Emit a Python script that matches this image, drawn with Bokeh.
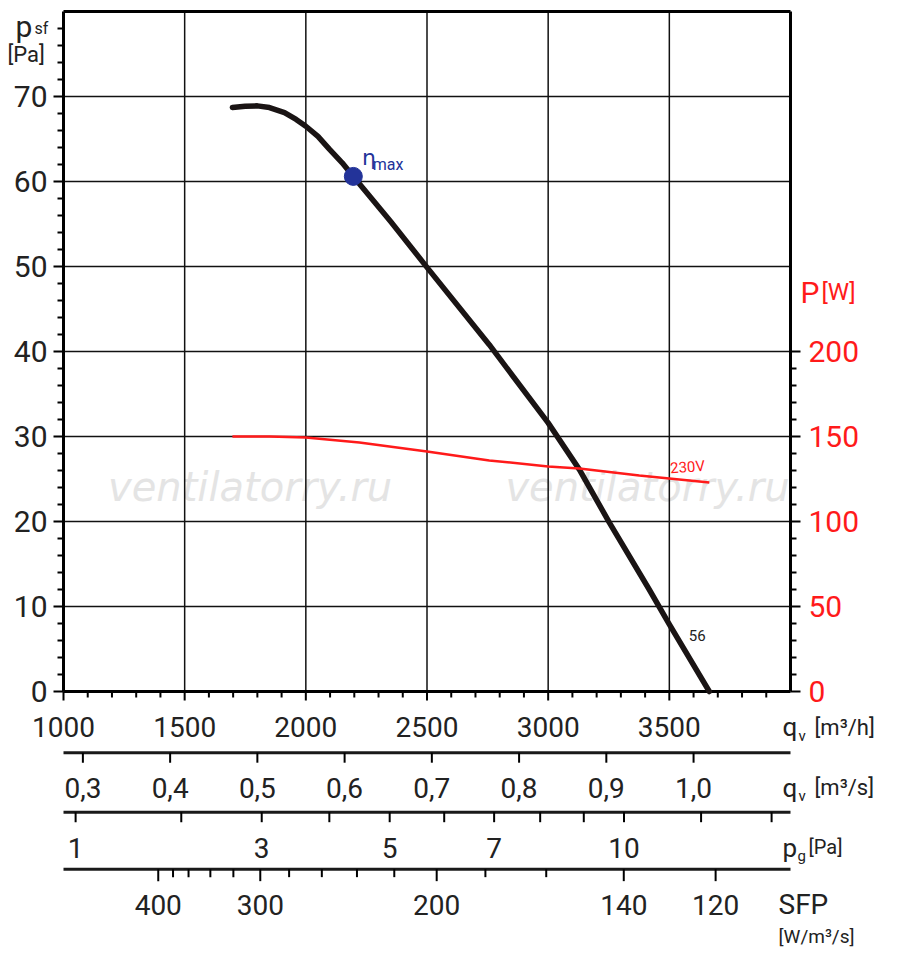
from bokeh.plotting import figure
from bokeh.models import Range1d
from bokeh.core.properties import value
from bokeh.embed import file_html
from bokeh.resources import INLINE

# ---- data ----
q_curve = [1697, 1750, 1800, 1850, 1912, 1960, 2000, 2050, 2097, 2150, 2196, 2350, 2500, 2757,
           3000, 3129, 3252, 3417, 3500, 3665]
psf_curve = [68.7, 68.85, 68.9, 68.7, 68.1, 67.3, 66.5, 65.3, 63.8, 62.2, 60.6, 55.3, 49.9, 40.8,
             31.6, 26.1, 19.9, 12.0, 7.9, 0.0]
q_power = [1697, 1850, 2000, 2221, 2500, 2757, 3000, 3129, 3376, 3665]
p_power = [150, 150, 149.4, 146.5, 141.2, 135.9, 132.4, 131.2, 127.0, 123.0]
eta_q, eta_p = 2196, 60.6

psf_ticks = [0, 10, 20, 30, 40, 50, 60, 70]
psf_labels = ["0", "10", "20", "30", "40", "50", "60", "70"]
pw_ticks = [0, 50, 100, 150, 200]
pw_labels = ["0", "50", "100", "150", "200"]
qh_ticks = [1000, 1500, 2000, 2500, 3000, 3500]
qh_labels = ["1000", "1500", "2000", "2500", "3000", "3500"]
qs_values = [0.3, 0.4, 0.5, 0.6, 0.7, 0.8, 0.9, 1.0]
qs_labels = ["0,3", "0,4", "0,5", "0,6", "0,7", "0,8", "0,9", "1,0"]
pg_tick_q = [1050, 1486, 1818, 2097, 2346, 2571, 2777, 2967, 3147, 3313, 3631, 3922]
pg_label_q = [1050, 1818, 2346, 2777, 3313]
pg_labels = ["1", "3", "5", "7", "10"]
sfp_tick_q = [1391, 1452, 1516, 1606, 1701, 1812, 1931, 2066, 2211, 2365, 2540, 2741, 2992, 3312, 3691]
sfp_label_q = [1391, 1812, 2540, 3312, 3691]
sfp_labels = ["400", "300", "200", "140", "120"]

FONT = "Roboto"
K = 727 / 3000.0          # px per m3/h
X0 = 1000 - 63 / K
X1 = X0 + 884 / K
PW = 5.0                  # P[W] per Pa on the right scale

p = figure(frame_width=884, frame_height=951, min_border=0,
           x_range=Range1d(X0, X1), y_range=Range1d((692 - 952) / 8.5, (692 - 1) / 8.5),
           output_backend="svg", toolbar_location=None)
p.outline_line_color = None
p.axis.visible = False
p.grid.visible = False

XL, XR = 1000, 4000
dx = lambda px: px / K      # px -> data x
dy = lambda px: px / 8.5    # px -> data y

def txt(x, y, t, size="28px", color="#222222", align="center", base="middle", font=FONT,
        style="normal", angle=0.0):
    p.text([x], [y], text=[t], text_font=value(font), text_font_size=size, text_color=color,
           text_align=align, text_baseline=base, text_font_style=style, angle=angle)

# watermark
for xw in [1770, 3410]:
    txt(xw, 24.1, "ventilatorry.ru", size="40px", color="#e4e4e4", font="DejaVu Sans", style="italic")

# grid
gx = [1500, 2000, 2500, 3000, 3500]
p.segment(x0=gx, y0=[0] * 5, x1=gx, y1=[80] * 5, line_color="#111111", line_width=1.5)
gy = [10, 20, 30, 40, 50, 60, 70]
p.segment(x0=[XL] * 7, y0=gy, x1=[XR] * 7, y1=gy, line_color="#111111", line_width=1.5)

# frame
p.segment(x0=[XL, XL, XR, XL], y0=[0, 80, 0, 0], x1=[XL, XR, XR, XR], y1=[80, 80, 80, 0],
          line_color="black", line_width=3)

# left ticks
minor_l = [v for v in range(0, 80, 2) if v % 10]
p.segment(x0=[XL] * 8, y0=psf_ticks, x1=[XL - dx(10)] * 8, y1=psf_ticks, line_color="black", line_width=2)
p.segment(x0=[XL] * len(minor_l), y0=minor_l, x1=[XL - dx(6)] * len(minor_l), y1=minor_l,
          line_color="black", line_width=2)
for v, t in zip(psf_ticks, psf_labels):
    txt(XL - dx(16), v, t, size="30px", align="right")

# right ticks (P)
minor_r = [v for v in range(0, 201, 10) if v % 50]
p.segment(x0=[XR] * 5, y0=[v / PW for v in pw_ticks], x1=[XR + dx(10)] * 5, y1=[v / PW for v in pw_ticks],
          line_color="black", line_width=2)
p.segment(x0=[XR] * len(minor_r), y0=[v / PW for v in minor_r], x1=[XR + dx(6)] * len(minor_r),
          y1=[v / PW for v in minor_r], line_color="black", line_width=2)
for v, t in zip(pw_ticks, pw_labels):
    txt(XR + dx(18), v / PW, t, size="30px", color="#ff1a1a", align="left")

# titles
txt(XL - dx(48), 78.2, "p", size="30px", align="left", base="alphabetic")
txt(XL - dx(29), 78.0, "sf", size="16px", align="left", base="alphabetic")
txt(XL - dx(56), 75.0, "[Pa]", size="22px", align="left", base="alphabetic")
txt(XR + dx(10), 47.0, "P", size="30px", color="#ff1a1a", align="left", base="alphabetic")
txt(XR + dx(31), 47.0, "[W]", size="24px", color="#ff1a1a", align="left", base="alphabetic")

# curves
p.line(q_curve, psf_curve, line_color="#1a1414", line_width=5.5, line_join="round", line_cap="round")
p.line(q_power, [v / PW for v in p_power], line_color="#ff1a1a", line_width=2.5)
p.scatter([eta_q], [eta_p], size=18, color="#233399")
txt(2232, 62.8, "η", size="22px", color="#233399", align="left", base="alphabetic", font="DejaVu Sans")
txt(2276, 62.0, "max", size="16px", color="#233399", align="left", base="alphabetic")
txt(3575, 132 / PW, "230V", size="15px", color="#ff1a1a", angle=0.07)
txt(3615, 6.6, "56", size="15px")

# main qv [m3/h] scale at y = 0
minor_qh = [q for q in range(1000, 4000, 100) if q not in qh_ticks]
p.segment(x0=qh_ticks, y0=[0] * 6, x1=qh_ticks, y1=[-dy(9)] * 6, line_color="black", line_width=2)
p.segment(x0=minor_qh, y0=[0] * len(minor_qh), x1=minor_qh, y1=[-dy(6)] * len(minor_qh),
          line_color="black", line_width=2)
for q, t in zip(qh_ticks, qh_labels):
    txt(q, -4.2, t)

# lower scale lines
for yl in [-7.2, -14.2, -20.9]:
    p.segment(x0=[XL], y0=[yl], x1=[XR], y1=[yl], line_color="#1a1a1a", line_width=3)

qs_q = [v * 3600 for v in qs_values]
p.segment(x0=qs_q, y0=[-7.2] * 8, x1=qs_q, y1=[-7.2 - dy(10)] * 8, line_color="black", line_width=2)
for q, t in zip(qs_q, qs_labels):
    txt(q, -11.3, t)

p.segment(x0=pg_tick_q, y0=[-14.2] * len(pg_tick_q), x1=pg_tick_q, y1=[-14.2 - dy(10)] * len(pg_tick_q),
          line_color="black", line_width=2)
for q, t in zip(pg_label_q, pg_labels):
    txt(q, -18.4, t)

sfp_len = [-20.9 - dy(12) if q in sfp_label_q else -20.9 - dy(8) for q in sfp_tick_q]
p.segment(x0=sfp_tick_q, y0=[-20.9] * len(sfp_tick_q), x1=sfp_tick_q, y1=sfp_len,
          line_color="black", line_width=2)
for q, t in zip(sfp_label_q, sfp_labels):
    txt(q, -25.1, t)

# scale names
QX = XR - dx(8)
txt(QX, -4.2, "q", size="26px", align="left")
txt(QX + dx(16), -5.2, "v", size="15px", align="left")
txt(QX + dx(32), -4.2, "[m³/h]", size="22px", align="left")
txt(QX, -11.3, "q", size="26px", align="left")
txt(QX + dx(16), -12.3, "v", size="15px", align="left")
txt(QX + dx(32), -11.3, "[m³/s]", size="22px", align="left")
txt(QX, -18.4, "p", size="26px", align="left")
txt(QX + dx(15), -19.4, "g", size="15px", align="left")
txt(QX + dx(26), -18.3, "[Pa]", size="20px", align="left")
txt(QX - dx(4), -25.0, "SFP", size="28px", align="left")
txt(QX - dx(4), -28.8, "[W/m³/s]", size="19px", align="left")

open("out.html", "w").write(file_html(p, INLINE))
